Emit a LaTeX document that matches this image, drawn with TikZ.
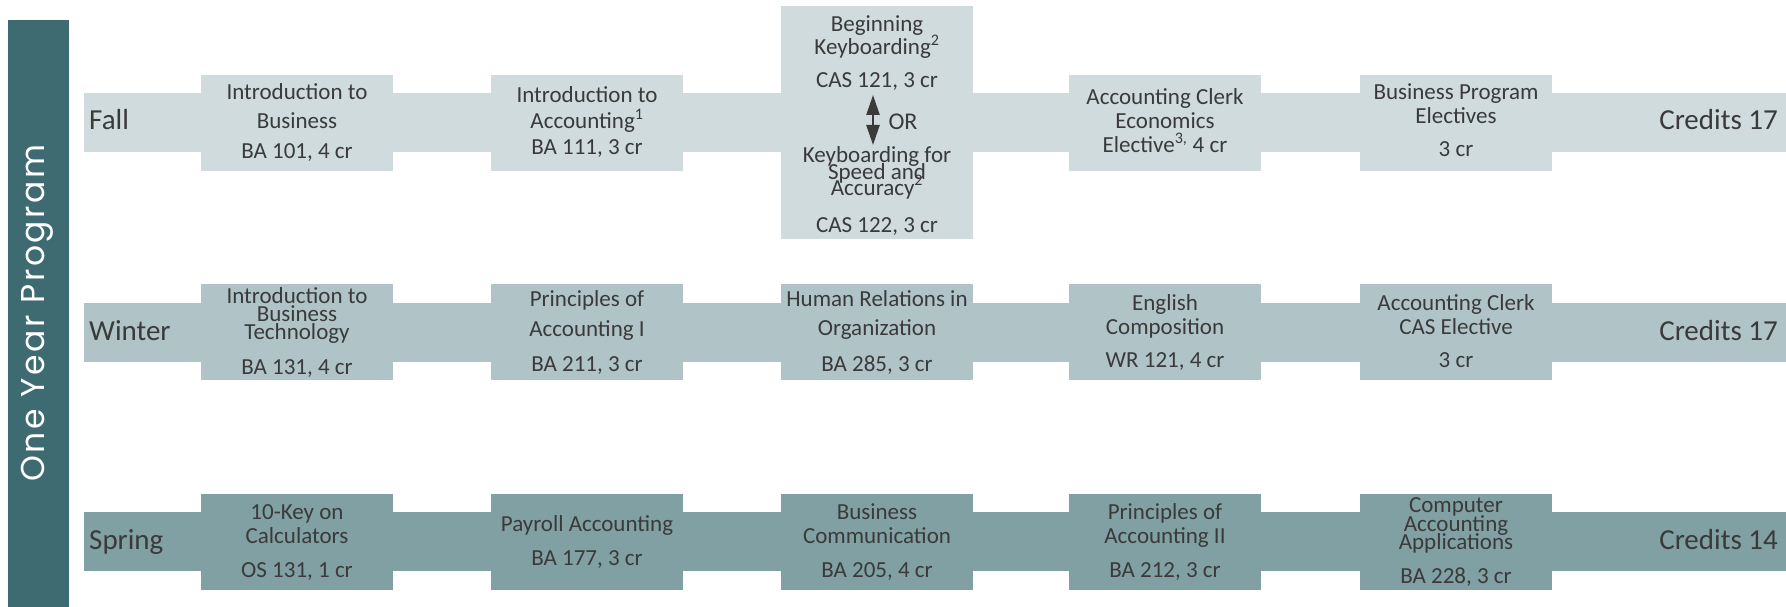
\documentclass[tikz,border=0pt]{standalone}
\usepackage{fontspec}
\setmainfont{Carlito}
\newfontfamily\gothic[LetterSpace=8]{Poppins}
\usetikzlibrary{arrows.meta}
\definecolor{fallc}{HTML}{CFDBDD}
\definecolor{winterc}{HTML}{B0C4C8}
\definecolor{springc}{HTML}{80A0A3}
\definecolor{darkc}{HTML}{3E6B71}
\definecolor{txtc}{HTML}{3A3A3A}
\begin{document}
\begin{tikzpicture}[x=1pt,y=-1pt,
  crs/.style={font=\fontsize{23}{23}\selectfont, text=txtc, anchor=base, inner sep=0pt},
  lbl/.style={font=\fontsize{29}{29}\selectfont, text=txtc, inner sep=0pt},
  cbox/.style={minimum width=192pt, minimum height=96pt, inner sep=0pt, draw=none},
  ]
\useasboundingbox (0,0) rectangle (1786,607);
% side bar
\fill[darkc] (8,20) rectangle (69,607);
\node[rotate=90, anchor=base, text=white, font=\gothic\fontsize{33}{33}\selectfont, inner sep=0pt] (title) at (44,313) {One Year Program};

% bands
\fill[fallc] (84,93) rectangle (1786,152);
\fill[winterc] (84,303) rectangle (1786,362);
\fill[springc] (84,512) rectangle (1786,571);

% boxes
\node[cbox, fill=fallc] (f1) at (297,123) {};
\node[cbox, fill=fallc] (f2) at (587,123) {};
\node[cbox, fill=fallc, minimum height=233pt] (f3) at (877,122.5) {};
\node[cbox, fill=fallc] (f4) at (1165,123) {};
\node[cbox, fill=fallc] (f5) at (1456,123) {};
\node[cbox, fill=winterc] (w1) at (297,332) {};
\node[cbox, fill=winterc] (w2) at (587,332) {};
\node[cbox, fill=winterc] (w3) at (877,332) {};
\node[cbox, fill=winterc] (w4) at (1165,332) {};
\node[cbox, fill=winterc] (w5) at (1456,332) {};
\node[cbox, fill=springc] (s1) at (297,542) {};
\node[cbox, fill=springc] (s2) at (587,542) {};
\node[cbox, fill=springc] (s3) at (877,542) {};
\node[cbox, fill=springc] (s4) at (1165,542) {};
\node[cbox, fill=springc] (s5) at (1456,542) {};

% row labels
\node[lbl, anchor=base west] (lfall) at (89,130) {Fall};
\node[lbl, anchor=base west] (lwinter) at (89,340.5) {Winter};
\node[lbl, anchor=base west] (lspring) at (89,549) {Spring};
\node[lbl, anchor=base east] (cfall) at (1778,130) {Credits 17};
\node[lbl, anchor=base east] (cwinter) at (1778,340.5) {Credits 17};
\node[lbl, anchor=base east] (cspring) at (1778,549) {Credits 14};

% Fall texts
\node[crs] (f1a) at (297,100) {Introduction to};
\node[crs] (f1b) at (297,129) {Business};
\node[crs] (f1c) at (297,159) {BA 101, 4 cr};
\node[crs] (f2a) at (587,103) {Introduction to};
\node[crs] (f2b) at (587,129) {Accounting\textsuperscript{1}};
\node[crs] (f2c) at (587,154) {BA 111, 3 cr};
\node[crs] (f3a) at (877,32) {Beginning};
\node[crs] (f3b) at (877,55) {Keyboarding\textsuperscript{2}};
\node[crs] (f3c) at (877,88) {CAS 121, 3 cr};
\node[crs, font=\fontsize{24}{24}\selectfont] (f3or) at (903,129.3) {OR};
\node[crs] (f3d) at (877,162) {Keyboarding for};
\node[crs] (f3e) at (877,179) {Speed and};
\node[crs] (f3f) at (877,195) {Accuracy\textsuperscript{2}};
\node[crs] (f3g) at (877,232) {CAS 122, 3 cr};
\coordinate (arrT) at (873,95);
\coordinate (arrB) at (873,145);
\draw[txtc, line width=2.4pt, {Triangle[width=13pt,length=20pt]}-{Triangle[width=13pt,length=20pt]}] (arrT) -- (arrB);
\node[crs] (f4a) at (1165,105) {Accounting Clerk};
\node[crs] (f4b) at (1165,128.5) {Economics};
\node[crs] (f4c) at (1165,152.5) {Elective\textsuperscript{3,} 4 cr};
\node[crs] (f5a) at (1456,100) {Business Program};
\node[crs] (f5b) at (1456,124) {Electives};
\node[crs] (f5c) at (1456,157) {3 cr};

% Winter texts
\node[crs] (w1a) at (297,303) {Introduction to};
\node[crs] (w1b) at (297,321) {Business};
\node[crs] (w1c) at (297,339) {Technology};
\node[crs] (w1d) at (297,374) {BA 131, 4 cr};
\node[crs] (w2a) at (587,306) {Principles of};
\node[crs] (w2b) at (587,336) {Accounting I};
\node[crs] (w2c) at (587,371) {BA 211, 3 cr};
\node[crs] (w3a) at (877,306) {Human Relations in};
\node[crs] (w3b) at (877,335) {Organization};
\node[crs] (w3c) at (877,371) {BA 285, 3 cr};
\node[crs] (w4a) at (1165,310) {English};
\node[crs] (w4b) at (1165,334) {Composition};
\node[crs] (w4c) at (1165,367) {WR 121, 4 cr};
\node[crs] (w5a) at (1456,310) {Accounting Clerk};
\node[crs] (w5b) at (1456,334) {CAS Elective};
\node[crs] (w5c) at (1456,367) {3 cr};

% Spring texts
\node[crs] (s1a) at (297,519) {10-Key on};
\node[crs] (s1b) at (297,543) {Calculators};
\node[crs] (s1c) at (297,577) {OS 131, 1 cr};
\node[crs] (s2a) at (587,531) {Payroll Accounting};
\node[crs] (s2b) at (587,565) {BA 177, 3 cr};
\node[crs] (s3a) at (877,519) {Business};
\node[crs] (s3b) at (877,543) {Communication};
\node[crs] (s3c) at (877,577) {BA 205, 4 cr};
\node[crs] (s4a) at (1165,519) {Principles of};
\node[crs] (s4b) at (1165,543) {Accounting II};
\node[crs] (s4c) at (1165,577) {BA 212, 3 cr};
\node[crs] (s5a) at (1456,512) {Computer};
\node[crs] (s5b) at (1456,531) {Accounting};
\node[crs] (s5c) at (1456,549) {Applications};
\node[crs] (s5d) at (1456,583) {BA 228, 3 cr};
\end{tikzpicture}
\end{document}
